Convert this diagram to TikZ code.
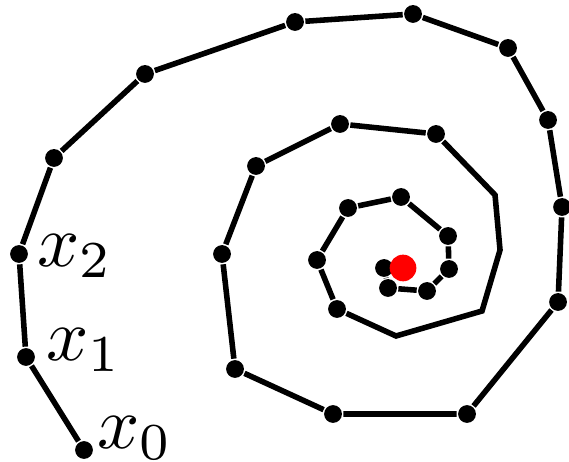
\documentclass[tikz,border=0pt]{standalone}
\usepackage{amsmath,amssymb}
\usepackage{tikz}
\usetikzlibrary{positioning}

\begin{document}
\begin{tikzpicture}[
      x=0.135pt, y=-0.135pt,
      pt/.style={circle, fill=black, inner sep=0pt, minimum size=2.4pt},
      lbl/.style={anchor=west, inner sep=0pt},
      spiral/.style={line width=0.75pt, color=black},
      target/.style={circle, fill=red, inner sep=0pt, minimum size=3.6pt}
    ]
    \useasboundingbox (0,0) rectangle (569,462);

    % iterates, outer turn
    \node[pt] (p0)  at (84,450)  {};
    \node[pt] (p1)  at (26,357)  {};
    \node[pt] (p2)  at (19,254)  {};
    \node[pt] (p3)  at (54,158)  {};
    \node[pt] (p4)  at (145,74)  {};
    \node[pt] (p5)  at (295,22)  {};
    \node[pt] (p6)  at (413,14)  {};
    \node[pt] (p7)  at (508,48)  {};
    \node[pt] (p8)  at (548,120) {};
    \node[pt] (p9)  at (562,207) {};
    \node[pt] (p10) at (558,302) {};
    \node[pt] (p11) at (467,414) {};
    \node[pt] (p12) at (333,414) {};
    % middle turn
    \node[pt] (p13) at (235,369) {};
    \node[pt] (p14) at (222,254) {};
    \node[pt] (p15) at (256,166) {};
    \node[pt] (p16) at (340,124) {};
    \node[pt] (p17) at (436,134) {};
    \coordinate (c18) at (495,195);
    \coordinate (c19) at (500,250);
    \coordinate (c20) at (482,311);
    \coordinate (c21) at (396,336);
    % inner turn
    \node[pt] (p22) at (337,309) {};
    \node[pt] (p23) at (317,260) {};
    \node[pt] (p24) at (348,208) {};
    \node[pt] (p25) at (401,197) {};
    \node[pt] (p26) at (448,236) {};
    \node[pt] (p27) at (449,269) {};
    \node[pt] (p28) at (427,291) {};
    \node[pt] (p29) at (388,288) {};
    \node[pt] (p30) at (384,268) {};

    \draw[spiral] (p0) -- (p1) -- (p2) -- (p3) -- (p4) -- (p5) -- (p6)
      -- (p7) -- (p8) -- (p9) -- (p10) -- (p11) -- (p12) -- (p13)
      -- (p14) -- (p15) -- (p16) -- (p17) -- (c18) -- (c19) -- (c20)
      -- (c21) -- (p22) -- (p23) -- (p24) -- (p25) -- (p26) -- (p27)
      -- (p28) -- (p29) -- (p30);

    \node[target] (xstar) at (403,268) {};

    \node[lbl] (l2) at (36,256) {$x_2$};
    \node[lbl] (l1) at (45,350) {$x_1$};
    \node[lbl] (l0) at (96,438) {$x_0$};
  \end{tikzpicture}
\end{document}
